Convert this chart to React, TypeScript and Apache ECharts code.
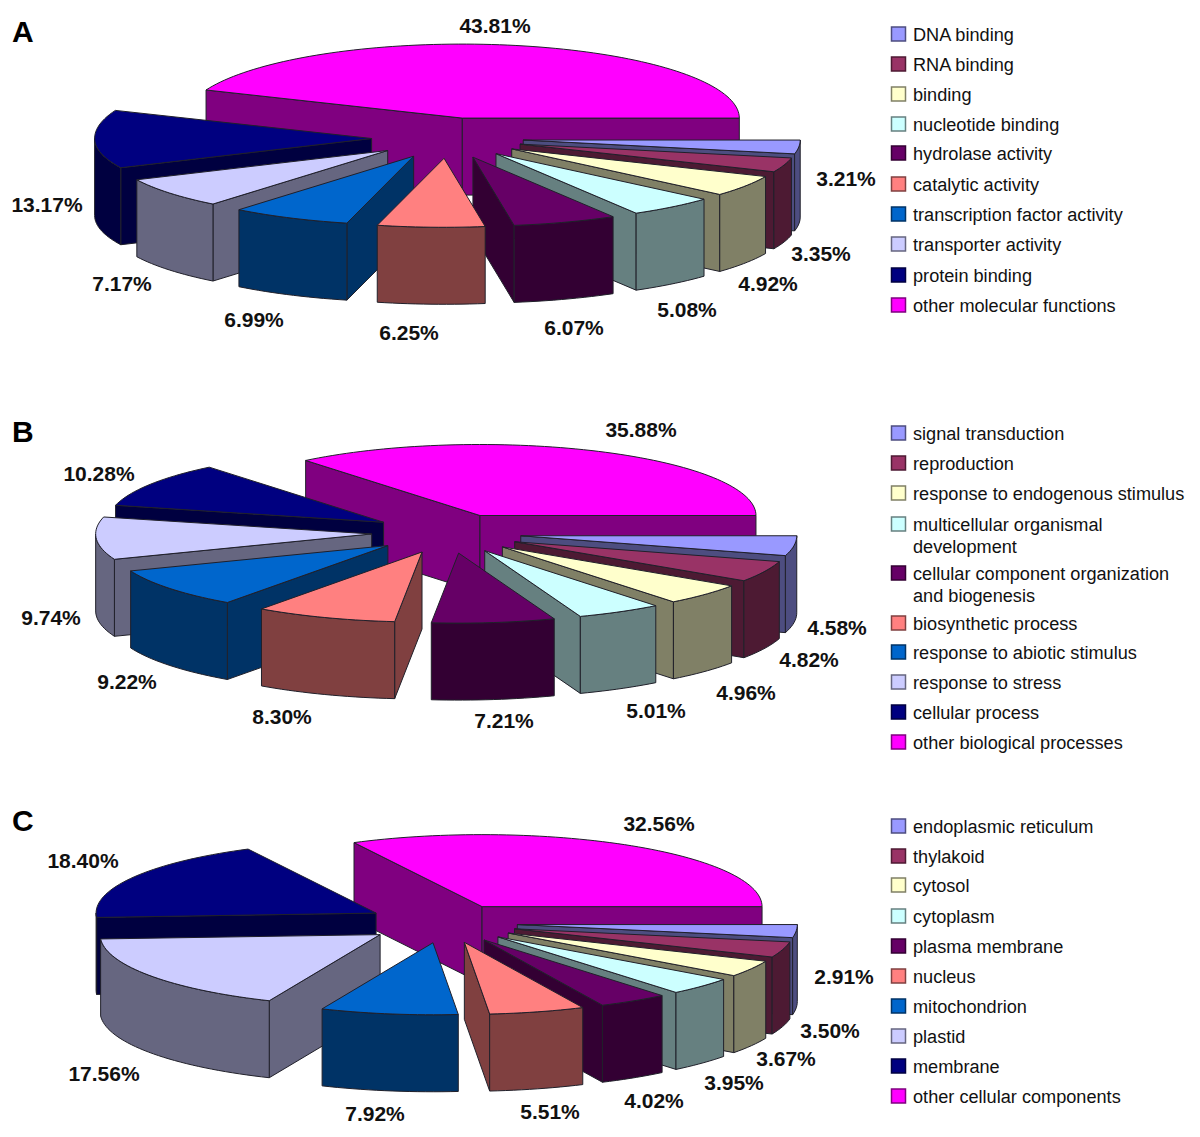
import React, { useEffect, useRef } from "react";
import * as echarts from "echarts";

const topColors = ["#9999FF", "#993366", "#FFFFCC", "#CCFFFF", "#660066", "#FF8080", "#0066CC", "#CCCCFF", "#000080", "#FF00FF"];

const valuesA = [3.21, 3.35, 4.92, 5.08, 6.07, 6.25, 6.99, 7.17, 13.17, 43.81];
const valuesB = [4.58, 4.82, 4.96, 5.01, 7.21, 8.30, 9.22, 9.74, 10.28, 35.88];
const valuesC = [2.91, 3.50, 3.67, 3.95, 4.02, 5.51, 7.92, 17.56, 18.40, 32.56];

const namesA = ["DNA binding", "RNA binding", "binding", "nucleotide binding", "hydrolase activity", "catalytic activity", "transcription factor activity", "transporter activity", "protein binding", "other molecular functions"];
const namesB = ["signal transduction", "reproduction", "response to endogenous stimulus", "multicellular organismal\ndevelopment", "cellular component organization\nand biogenesis", "biosynthetic process", "response to abiotic stimulus", "response to stress", "cellular process", "other biological processes"];
const namesC = ["endoplasmic reticulum", "thylakoid", "cytosol", "cytoplasm", "plasma membrane", "nucleus", "mitochondrion", "plastid", "membrane", "other cellular components"];

const legendYA = [34, 64, 94, 124, 153, 184, 214, 244, 275, 305];
const legendYB = [433, 463, 493, 524, 573, 623, 652, 682, 712, 742];
const legendYC = [826, 856, 885, 916, 946, 976, 1006, 1036, 1066, 1096];

const labelPosA = [[846, 179], [821, 254], [768, 284], [687, 310], [574, 328], [409, 333], [254, 320], [122, 284], [47, 205], [495, 26]];
const labelPosB = [[837, 628], [809, 660], [746, 693], [656, 711], [504, 721], [282, 717], [127, 682], [51, 618], [99, 474], [641, 430]];
const labelPosC = [[844, 977], [830, 1031], [786, 1059], [734, 1083], [654, 1101], [550, 1112], [375, 1114], [104, 1074], [83, 861], [659, 824]];

const pies = [
  { letter: "A", letterY: 31, values: valuesA, names: namesA, legendY: legendYA, labelPos: labelPosA, cx: 447.6, cy: 138, explode: 76, rx: 277, ry: 74, ryFront: 69, depth: 77, extraLeft: 0, extraRight: 0, extraFront: 0 },
  { letter: "B", letterY: 431, values: valuesB, names: namesB, legendY: legendYB, labelPos: labelPosB, cx: 449.5, cy: 532, explode: 71, rx: 276, ry: 71, ryFront: 70, depth: 77, extraLeft: 7, extraRight: 1, extraFront: 3 },
  { letter: "C", letterY: 820, values: valuesC, names: namesC, legendY: legendYC, labelPos: labelPosC, cx: 445.6, cy: 922, explode: 70, rx: 280, ry: 72, ryFront: 72, depth: 77, extraLeft: 10, extraRight: 2, extraFront: 3 },
];

const FONT = '"Liberation Sans", Arial, sans-serif';
const EDGE = "#20202a";

function shade(hex: string) {
  const n = parseInt(hex.slice(1), 16);
  const r = (n >> 16) & 255, g = (n >> 8) & 255, b = n & 255;
  const h = (v: number) => Math.round(v / 2).toString(16).padStart(2, "0");
  return "#" + h(r) + h(g) + h(b);
}

function pieSeries(p: any) {
  const total = p.values.reduce((a: number, b: number) => a + b, 0);
  let acc = 0;
  const rows = p.values.map((v: number, i: number) => {
    const a0 = (acc / total) * 360;
    acc += v;
    const a1 = (acc / total) * 360;
    return { name: p.names[i], value: [v, a0, a1, i] };
  });
  const sinMid = (r: any) => Math.sin(((r.value[1] + r.value[2]) / 2) * Math.PI / 180);
  rows.sort((a: any, b: any) => sinMid(a) - sinMid(b));
  const k = p.ry / p.rx;
  return {
    type: "custom",
    coordinateSystem: "none",
    silent: true,
    data: rows,
    renderItem: (_params: any, api: any) => {
      const a0 = api.value(1) * Math.PI / 180;
      const a1 = api.value(2) * Math.PI / 180;
      const color = topColors[api.value(3)];
      const dark = shade(color);
      const mid = (a0 + a1) / 2;
      const largest = api.value(3) === p.values.length - 1;
      const cm = Math.cos(mid), sm = Math.sin(mid);
      const ax = p.cx + p.explode * cm + (largest ? 0 : cm < 0 ? p.extraLeft * cm : p.extraRight * cm);
      const ay = p.cy + p.explode * sm * k + (sm > 0 ? p.extraFront * Math.sqrt(sm) : 0);
      const at = (a: number, dy = 0) => {
        const s = Math.sin(a);
        return [ax + p.rx * Math.cos(a), ay + (s > 0 ? p.ryFront : p.ry) * s + dy];
      };
      const arc = (from: number, to: number, dy = 0) => {
        const n = Math.max(2, Math.ceil(Math.abs(to - from) / 0.03));
        const out: number[][] = [];
        for (let i = 0; i <= n; i++) out.push(at(from + (to - from) * i / n, dy));
        return out;
      };
      const face = (points: number[][], fill: string) => ({
        type: "polygon",
        shape: { points },
        style: { fill, stroke: EDGE, lineWidth: 1, lineJoin: "round" },
      });
      const children: any[] = [];
      if (Math.cos(a0) < 0) {
        const e = at(a0);
        children.push(face([[ax, ay], e, [e[0], e[1] + p.depth], [ax, ay + p.depth]], dark));
      }
      if (Math.cos(a1) > 0) {
        const e = at(a1);
        children.push(face([[ax, ay], e, [e[0], e[1] + p.depth], [ax, ay + p.depth]], dark));
      }
      const from = Math.max(a0, 0);
      const to = Math.min(a1, Math.PI);
      if (to > from) {
        children.push(face([...arc(from, to), ...arc(to, from, p.depth)], dark));
      }
      children.push(face([[ax, ay], ...arc(a0, a1)], color));
      return { type: "group", children };
    },
  };
}

function overlays() {
  const els: any[] = [];
  pies.forEach((p) => {
    els.push({
      type: "text", x: 12, y: p.letterY,
      style: { text: p.letter, font: `bold 30px ${FONT}`, fill: "#000", align: "left", verticalAlign: "middle" },
    });
    p.values.forEach((v, i) => {
      const [x, y] = p.labelPos[i];
      els.push({
        type: "text", x, y: y - 1,
        style: { text: v.toFixed(2) + "%", font: `bold 21px ${FONT}`, fill: "#111", align: "center", verticalAlign: "middle" },
      });
      const ly = p.legendY[i];
      els.push({
        type: "rect", shape: { x: 891.5, y: ly - 7, width: 14, height: 14 },
        style: { fill: topColors[i], stroke: shade(topColors[i]), lineWidth: 1.5 },
      });
      els.push({
        type: "text", x: 913, y: ly - 10,
        style: { text: p.names[i], font: `18.15px ${FONT}`, lineHeight: 22, fill: "#111", align: "left", verticalAlign: "top" },
      });
    });
  });
  return els;
}

export default function App() {
  const ref = useRef<HTMLDivElement>(null);
  useEffect(() => {
    const chart = echarts.init(ref.current!, undefined, { renderer: "svg" });
    chart.setOption({
      animation: false,
      backgroundColor: "#ffffff",
      series: pies.map(pieSeries),
      graphic: { elements: overlays() },
    });
    return () => chart.dispose();
  }, []);
  return <div ref={ref} style={{ position: "fixed", left: 0, top: 0, width: 1200, height: 1137 }} />;
}
